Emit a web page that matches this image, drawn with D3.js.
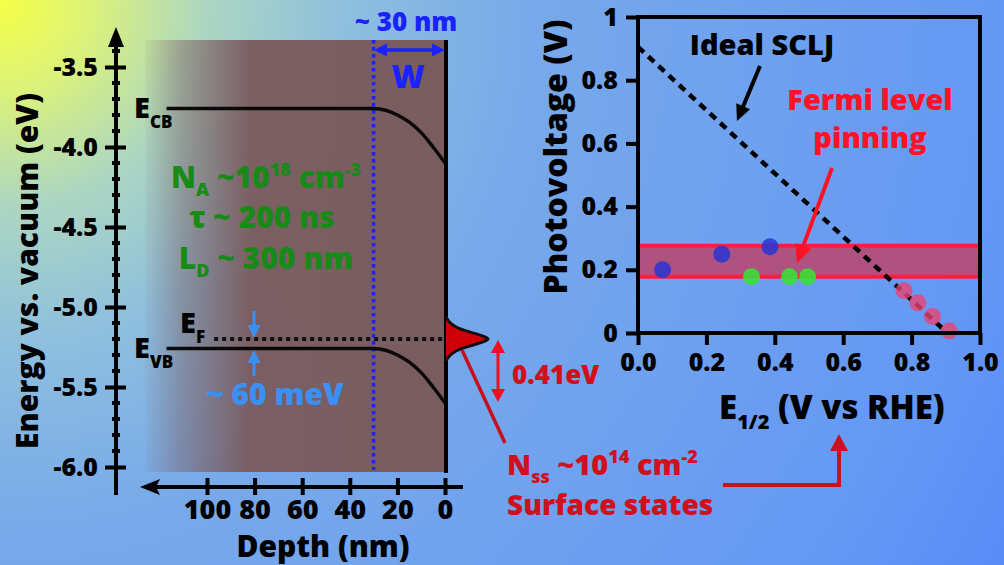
<!DOCTYPE html>
<html><head><meta charset="utf-8">
<script src="https://cdn.jsdelivr.net/npm/d3@7"></script>
<style>
body{margin:0;overflow:hidden;background:#6a9cf0}
text{font-family:"Open Sans","Noto Sans",sans-serif;font-weight:800}
</style>
</head><body>
<svg id="chart" width="1004" height="565"></svg>
<script>
// ---------------- DATA ----------------
// Left panel: band diagram
const energyTicks = [-3.5, -4.0, -4.5, -5.0, -5.5, -6.0];
const energyTickLabels = ["-3.5", "-4.0", "-4.5", "-5.0", "-5.5", "-6.0"];
const energyMinorTicks = [-3.4, -3.6, -3.7, -3.8, -3.9, -4.1, -4.2, -4.3, -4.4, -4.6, -4.7, -4.8, -4.9,
                          -5.1, -5.2, -5.3, -5.4, -5.6, -5.7, -5.8, -5.9];
const depthTicks = [100, 80, 60, 40, 20, 0];
const depthTickLabels = ["100", "80", "60", "40", "20", "0"];
const bandDepth = [117, 30, 25, 20, 15, 10, 5, 0];
const conductionBand = [-3.76, -3.76, -3.77, -3.80, -3.845, -3.91, -4.00, -4.10];
const valenceBand = [-5.26, -5.26, -5.27, -5.30, -5.345, -5.41, -5.50, -5.60];
const fermiLevel = -5.2;
const fermiStartDepth = 97;
const depletionWidth = 30;
const surfaceStateEnergy = [-5.06, -5.09, -5.125, -5.155, -5.18, -5.20, -5.22, -5.245, -5.275, -5.31, -5.34];
const surfaceStateDensity = [0, 0.07, 0.24, 0.56, 0.86, 1, 0.86, 0.56, 0.24, 0.07, 0];

// Right panel: photovoltage vs E1/2
const e12Ticks = [0, 0.2, 0.4, 0.6, 0.8, 1.0];
const e12TickLabels = ["0.0", "0.2", "0.4", "0.6", "0.8", "1.0"];
const pvTicks = [0, 0.2, 0.4, 0.6, 0.8, 1];
const pvTickLabels = ["0", "0.2", "0.4", "0.6", "0.8", "1"];
const blueE = [0.072, 0.245, 0.386];
const blueV = [0.200, 0.249, 0.273];
const greenE = [0.332, 0.443, 0.496];
const greenV = [0.178, 0.178, 0.178];
const pinkE = [0.778, 0.818, 0.861, 0.910];
const pinkV = [0.134, 0.096, 0.052, 0.006];
const idealE = [0, 0.905];
const idealV = [0.905, 0];
const pinningBand = [0.178, 0.276];

// ---------------- DRAW ----------------
const FONT = '"Open Sans","Noto Sans",sans-serif';
const svg = d3.select("#chart");
const defs = svg.append("defs");

const bg = defs.append("radialGradient").attr("id", "bg")
  .attr("gradientUnits", "userSpaceOnUse").attr("cx", 0).attr("cy", 0).attr("r", 1150);
[[0, "#f6ff46"], [0.08, "#dcf27a"], [0.18, "#acd6c2"], [0.3, "#8ebfde"], [0.46, "#78a9ea"],
 [0.87, "#6498f4"], [1, "#5a8cf8"]].forEach(s => bg.append("stop").attr("offset", s[0]).attr("stop-color", s[1]));
svg.append("rect").attr("width", 1004).attr("height", 565).attr("fill", "url(#bg)");

const brown = defs.append("linearGradient").attr("id", "brown")
  .attr("gradientUnits", "userSpaceOnUse").attr("x1", 145).attr("x2", 447).attr("y1", 0).attr("y2", 0);
[[0, 0.05], [0.12, 0.45], [0.35, 0.97], [1, 1]].forEach(s =>
  brown.append("stop").attr("offset", s[0]).attr("stop-color", "#7a5c5f").attr("stop-opacity", s[1]));

function arrow(g, x1, y1, x2, y2, color, w, hl, hw, both) {
  const dx = x2 - x1, dy = y2 - y1, L = Math.hypot(dx, dy), ux = dx / L, uy = dy / L;
  const px = -uy, py = ux;
  const head = (tx, ty, sx, sy) => {
    g.append("path").attr("d",
      `M${tx},${ty}L${tx - sx * hl + px * hw / 2},${ty - sy * hl + py * hw / 2}L${tx - sx * hl - px * hw / 2},${ty - sy * hl - py * hw / 2}Z`)
      .attr("fill", color);
  };
  const sx = both ? x1 + ux * hl * 0.7 : x1, sy = both ? y1 + uy * hl * 0.7 : y1;
  g.append("line").attr("x1", sx).attr("y1", sy).attr("x2", x2 - ux * hl * 0.7).attr("y2", y2 - uy * hl * 0.7)
    .attr("stroke", color).attr("stroke-width", w);
  head(x2, y2, ux, uy);
  if (both) head(x1, y1, -ux, -uy);
}

// ---- Left panel ----
const xD = d3.scaleLinear().domain([0, 100]).range([445, 207]);
const yE = d3.scaleLinear().domain([-3.5, -6.0]).range([67, 467]);
const L = svg.append("g");

L.append("rect").attr("x", 145).attr("y", 40).attr("width", 302).attr("height", 432).attr("fill", "url(#brown)");

// depletion width line
L.append("line").attr("x1", xD(depletionWidth)).attr("x2", xD(depletionWidth)).attr("y1", 40).attr("y2", 470)
  .attr("stroke", "#1a22ff").attr("stroke-width", 3.5).attr("stroke-dasharray", "3.5,3.5");

// Fermi level
L.append("line").attr("x1", xD(fermiStartDepth)).attr("x2", xD(0)).attr("y1", yE(fermiLevel)).attr("y2", yE(fermiLevel))
  .attr("stroke", "#111").attr("stroke-width", 4).attr("stroke-dasharray", "4,4");

// bands
const bandLine = d3.line().x(d => xD(d[0])).y(d => yE(d[1])).curve(d3.curveMonotoneX);
[conductionBand, valenceBand].forEach(b => {
  L.append("path").attr("d", bandLine(bandDepth.map((d, i) => [d, b[i]])))
    .attr("fill", "none").attr("stroke", "#0a0a0a").attr("stroke-width", 3.5);
});

// surface line
L.append("line").attr("x1", 446).attr("x2", 446).attr("y1", 40).attr("y2", 473).attr("stroke", "#000").attr("stroke-width", 4);

// surface states gaussian
const xS = d3.scaleLinear().domain([0, 1]).range([446, 488]);
const ssArea = d3.line().x(d => xS(d[1])).y(d => yE(d[0])).curve(d3.curveCatmullRom);
L.append("path").attr("d", ssArea(surfaceStateEnergy.map((e, i) => [e, surfaceStateDensity[i]])))
  .attr("fill", "#d0000a").attr("stroke", "#111").attr("stroke-width", 3);

// energy axis
const eAxis = d3.axisLeft(yE).tickValues(energyTicks).tickFormat((d, i) => energyTickLabels[i])
  .tickSize(11).tickPadding(7).tickSizeOuter(0);
const eg = L.append("g").attr("transform", "translate(116,0)").call(eAxis);
eg.select(".domain").remove();
eg.selectAll(".tick line").attr("x1", 10).attr("stroke", "#000").attr("stroke-width", 4);
eg.selectAll(".tick text").attr("font-size", 25).attr("fill", "#000").attr("font-family", FONT).attr("font-weight", 800);
eg.selectAll(".minor").data(energyMinorTicks).enter().append("line").attr("class", "minor")
  .attr("x1", -4).attr("x2", 4).attr("y1", d => yE(d)).attr("y2", d => yE(d)).attr("stroke", "#000").attr("stroke-width", 4);
L.append("line").attr("x1", 116).attr("x2", 116).attr("y1", 42).attr("y2", 495).attr("stroke", "#000").attr("stroke-width", 4);
L.append("path").attr("d", "M116,27L124,47L108,47Z").attr("fill", "#000");

// depth axis
const dAxis = d3.axisBottom(xD).tickValues(depthTicks).tickFormat((d, i) => depthTickLabels[i])
  .tickSize(8).tickPadding(5).tickSizeOuter(0);
const dg = L.append("g").attr("transform", "translate(0,487)").call(dAxis);
dg.select(".domain").remove();
dg.selectAll(".tick line").attr("y1", -9).attr("stroke", "#000").attr("stroke-width", 4);
dg.selectAll(".tick text").attr("font-size", 27).attr("fill", "#000").attr("font-family", FONT).attr("font-weight", 800);
L.append("line").attr("x1", 155).attr("x2", 463).attr("y1", 487).attr("y2", 487).attr("stroke", "#000").attr("stroke-width", 4);
L.append("path").attr("d", "M140,487L160,479L156,487L160,495Z").attr("fill", "#000");

// axis titles
L.append("text").attr("transform", "translate(38,271) rotate(-90)").attr("text-anchor", "middle")
  .attr("font-size", 30).attr("fill", "#000").text("Energy vs. vacuum (eV)");
L.append("text").attr("x", 323).attr("y", 557).attr("text-anchor", "middle")
  .attr("font-size", 30).attr("fill", "#000").text("Depth (nm)");

// band labels
function subLabel(g, x, y, main, sub, size, subSize, color, dy) {
  const t = g.append("text").attr("x", x).attr("y", y).attr("font-size", size).attr("fill", color);
  t.append("tspan").text(main);
  t.append("tspan").attr("font-size", subSize).attr("dy", dy).text(sub);
  return t;
}
subLabel(L, 134, 118, "E", "CB", 29, 17, "#000", 10);
subLabel(L, 134, 358, "E", "VB", 29, 17, "#000", 10);
subLabel(L, 180, 333, "E", "F", 29, 17, "#000", 10);

// W annotation
L.append("text").attr("x", 406).attr("y", 31).attr("text-anchor", "middle").attr("font-size", 26).attr("fill", "#1a22ff").text("~ 30 nm");
arrow(L, 374, 50, 445, 50, "#1a22ff", 3.5, 13, 13, true);
L.append("text").attr("x", 408).attr("y", 88).attr("text-anchor", "middle").attr("font-size", 32).attr("fill", "#1a22ff").text("W");

// green parameters
const green = "#178a17";
const t1 = L.append("text").attr("x", 266).attr("y", 188).attr("text-anchor", "middle").attr("font-size", 30).attr("fill", green);
t1.append("tspan").text("N");
t1.append("tspan").attr("font-size", 18).attr("dy", 8).text("A");
t1.append("tspan").attr("dy", -8).text(" ~10");
t1.append("tspan").attr("font-size", 18).attr("dy", -12).text("18");
t1.append("tspan").attr("dy", 12).text(" cm");
t1.append("tspan").attr("font-size", 18).attr("dy", -12).text("-3");
L.append("text").attr("x", 262).attr("y", 228).attr("text-anchor", "middle").attr("font-size", 30).attr("fill", green).text("τ ~ 200 ns");
const t3 = L.append("text").attr("x", 266).attr("y", 269).attr("text-anchor", "middle").attr("font-size", 30).attr("fill", green);
t3.append("tspan").text("L");
t3.append("tspan").attr("font-size", 18).attr("dy", 8).text("D");
t3.append("tspan").attr("dy", -8).text(" ~ 300 nm");

// 60 meV
const lb = "#3a90f4";
arrow(L, 254, 311, 254, 338, lb, 3, 13, 13, false);
arrow(L, 254, 376, 254, 350, lb, 3, 13, 13, false);
L.append("text").attr("x", 275).attr("y", 405).attr("text-anchor", "middle").attr("font-size", 30).attr("fill", lb).text("~ 60 meV");

// surface state annotations
const dred = "#d0101c";
arrow(L, 498, 340, 498, 402, "#ee1020", 3, 13, 14, true);
L.append("text").attr("x", 512).attr("y", 384).attr("font-size", 26).attr("fill", dred).text("0.41eV");
L.append("line").attr("x1", 462).attr("y1", 350).attr("x2", 505).attr("y2", 443).attr("stroke", "#c8101c").attr("stroke-width", 3.5);
const t4 = svg.append("text").attr("x", 507).attr("y", 475).attr("font-size", 29).attr("fill", dred);
t4.append("tspan").text("N");
t4.append("tspan").attr("font-size", 18).attr("dy", 8).text("ss");
t4.append("tspan").attr("dy", -8).text(" ~10");
t4.append("tspan").attr("font-size", 18).attr("dy", -12).text("14");
t4.append("tspan").attr("dy", 12).text(" cm");
t4.append("tspan").attr("font-size", 18).attr("dy", -12).text("-2");
svg.append("text").attr("x", 507).attr("y", 515).attr("font-size", 28).attr("fill", dred).text("Surface states");
svg.append("path").attr("d", "M723,485H839V448").attr("fill", "none").attr("stroke", "#cc1020").attr("stroke-width", 4);
svg.append("path").attr("d", "M839,434L848,451L830,451Z").attr("fill", "#cc1020");

// ---- Right panel ----
const xR = d3.scaleLinear().domain([0, 1]).range([638, 980]);
const yR = d3.scaleLinear().domain([0, 1]).range([333, 17]);
const R = svg.append("g");

R.append("rect").attr("x", xR(0)).attr("width", xR(1) - xR(0)).attr("y", yR(pinningBand[1]))
  .attr("height", yR(pinningBand[0]) - yR(pinningBand[1])).attr("fill", "#b0527f");
pinningBand.forEach(v => R.append("line").attr("x1", xR(0)).attr("x2", xR(1)).attr("y1", yR(v)).attr("y2", yR(v))
  .attr("stroke", "#ff1c3c").attr("stroke-width", 4));

const idealLine = d3.line().x(d => xR(d[0])).y(d => yR(d[1]));
R.append("path").attr("d", idealLine(idealE.map((e, i) => [e, idealV[i]])))
  .attr("fill", "none").attr("stroke", "#000").attr("stroke-width", 4.5).attr("stroke-dasharray", "8,6");

const pts = (E, V, color, op) => R.append("g").selectAll("circle").data(E.map((e, i) => [e, V[i]])).enter()
  .append("circle").attr("cx", d => xR(d[0])).attr("cy", d => yR(d[1])).attr("r", 8.5).attr("fill", color).attr("fill-opacity", op);
pts(blueE, blueV, "#2a34d4", 0.85);
pts(greenE, greenV, "#38e038", 0.9);
pts(pinkE, pinkV, "#e84474", 0.8);

R.append("rect").attr("x", xR(0)).attr("y", yR(1)).attr("width", xR(1) - xR(0)).attr("height", yR(0) - yR(1))
  .attr("fill", "none").attr("stroke", "#000").attr("stroke-width", 4);

const yAx = d3.axisLeft(yR).tickValues(pvTicks).tickFormat((d, i) => pvTickLabels[i]).tickSize(12).tickPadding(8).tickSizeOuter(0);
const yg = R.append("g").attr("transform", `translate(${xR(0)},0)`).call(yAx);
yg.select(".domain").remove();
yg.selectAll(".tick line").attr("stroke", "#000").attr("stroke-width", 4);
yg.selectAll(".tick text").attr("font-size", 25).attr("fill", "#000").attr("font-family", FONT).attr("font-weight", 800);
const xAx = d3.axisBottom(xR).tickValues(e12Ticks).tickFormat((d, i) => e12TickLabels[i]).tickSize(12).tickPadding(8).tickSizeOuter(0);
const xg = R.append("g").attr("transform", `translate(0,${yR(0)})`).call(xAx);
xg.select(".domain").remove();
xg.selectAll(".tick line").attr("stroke", "#000").attr("stroke-width", 4);
xg.selectAll(".tick text").attr("font-size", 25).attr("fill", "#000").attr("font-family", FONT).attr("font-weight", 800);

R.append("text").attr("transform", "translate(567,157) rotate(-90)").attr("text-anchor", "middle")
  .attr("font-size", 32).attr("fill", "#000").text("Photovoltage (V)");
const xl = R.append("text").attr("x", 719).attr("y", 419).attr("font-size", 33).attr("fill", "#000");
xl.append("tspan").text("E");
xl.append("tspan").attr("font-size", 20).attr("dy", 10).text("1/2");
xl.append("tspan").attr("dy", -10).text(" (V vs RHE)");

R.append("text").attr("x", 762).attr("y", 55).attr("text-anchor", "middle").attr("font-size", 29).attr("fill", "#000").text("Ideal SCLJ");
arrow(R, 760, 66, 737, 121, "#000", 4, 16, 15, false);
const red = "#ff1226";
R.append("text").attr("x", 870).attr("y", 110).attr("text-anchor", "middle").attr("font-size", 29).attr("fill", red).text("Fermi level");
R.append("text").attr("x", 870).attr("y", 148).attr("text-anchor", "middle").attr("font-size", 29).attr("fill", red).text("pinning");
arrow(R, 832, 168, 797, 263, red, 4, 18, 17, false);
</script>
</body></html>
